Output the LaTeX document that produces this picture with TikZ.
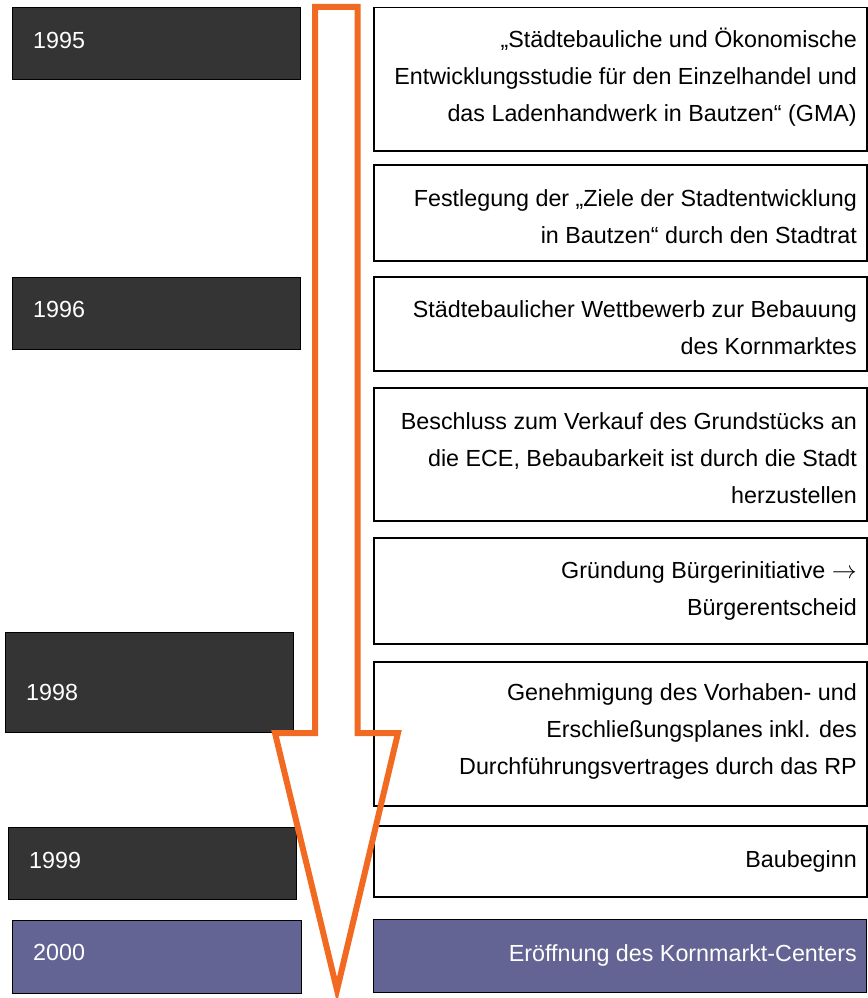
\documentclass[tikz,border=0pt]{standalone}
\usepackage{fontspec}
\setmainfont{Liberation Sans}
\definecolor{darkbox}{HTML}{333433}
\definecolor{purplebox}{HTML}{636493}
\definecolor{arroworange}{HTML}{F26A22}
\begin{document}
\begin{tikzpicture}[x=1pt,y=-1pt,
  yearbox/.style={draw=black, line width=1.3pt, fill=darkbox, rectangle, anchor=north west, inner sep=0pt},
  endbox/.style={draw=black, line width=1.3pt, fill=purplebox, rectangle, anchor=north west, inner sep=0pt},
  descbox/.style={draw=black, line width=1.5pt, fill=white, rectangle, anchor=north west, inner sep=0pt},
  yeartext/.style={text=white, anchor=west, inner sep=0pt, font=\fontsize{23.3}{37}\selectfont},
  desctext/.style={text=black, anchor=east, align=right, inner sep=0pt, font=\fontsize{23.3}{37}\selectfont},
  enddesc/.style={desctext, text=white}]
\useasboundingbox (0,0) rectangle (867,998);
% left year boxes
\node (b95) [yearbox, minimum width=288pt, minimum height=72pt] at (12,7) {};
\node (b96) [yearbox, minimum width=288pt, minimum height=72pt] at (12,277) {};
\node (b98) [yearbox, minimum width=288pt, minimum height=100pt] at (5,632) {};
\node (b99) [yearbox, minimum width=288pt, minimum height=72pt] at (8,827) {};
\node (b00) [endbox, minimum width=289pt, minimum height=73pt] at (12,920) {};
\node (t95) [yeartext] at (33,40) {1995};
\node (t96) [yeartext] at (33,309) {1996};
\node (t98) [yeartext] at (26,692) {1998};
\node (t99) [yeartext] at (29,860) {1999};
\node (t00) [yeartext] at (33,952) {2000};
% right description boxes
\node (d1) [descbox, minimum width=493pt, minimum height=143pt] at (373,7) {};
\node (d2) [descbox, minimum width=493pt, minimum height=96pt] at (373,164) {};
\node (d3) [descbox, minimum width=493pt, minimum height=94pt] at (373,276) {};
\node (d4) [descbox, minimum width=493pt, minimum height=133pt] at (373,387) {};
\node (d5) [descbox, minimum width=493pt, minimum height=106pt] at (373,537) {};
\node (d6) [descbox, minimum width=493pt, minimum height=144pt] at (373,661) {};
\node (d7) [descbox, minimum width=493pt, minimum height=71pt] at (373,825) {};
\node (d8) [endbox, minimum width=493pt, minimum height=73pt] at (373,919) {};
\node (e1) [desctext] at (857,77) {„Städtebauliche und Ökonomische\\Entwicklungsstudie für den Einzelhandel und\\das Ladenhandwerk in Bautzen“ (GMA)};
\node (e2) [desctext] at (857,217) {Festlegung der „Ziele der Stadtentwicklung\\in Bautzen“ durch den Stadtrat};
\node (e3) [desctext] at (857,328) {Städtebaulicher Wettbewerb zur Bebauung\\des Kornmarktes};
\node (e4) [desctext] at (857,458) {Beschluss zum Verkauf des Grundstücks an\\die ECE, Bebaubarkeit ist durch die Stadt\\herzustellen};
\node (e5) [desctext] at (857,591) {Gründung Bürgerinitiative $\rightarrow$\\Bürgerentscheid};
\node (e6) [desctext] at (857,731) {Genehmigung des Vorhaben- und\\Erschließungsplanes inkl. des\\Durchführungsvertrages durch das RP};
\node (e7) [desctext] at (857,861) {Baubeginn};
\node (e8) [enddesc] at (857,955) {Eröffnung des Kornmarkt-Centers};
% arrow
\draw[arroworange, line width=6pt, line join=miter]
  (315,7) -- (357.5,7) -- (357.5,733) -- (398,733) -- (337,990) -- (275,733) -- (315,733) -- cycle;
\end{tikzpicture}
\end{document}
